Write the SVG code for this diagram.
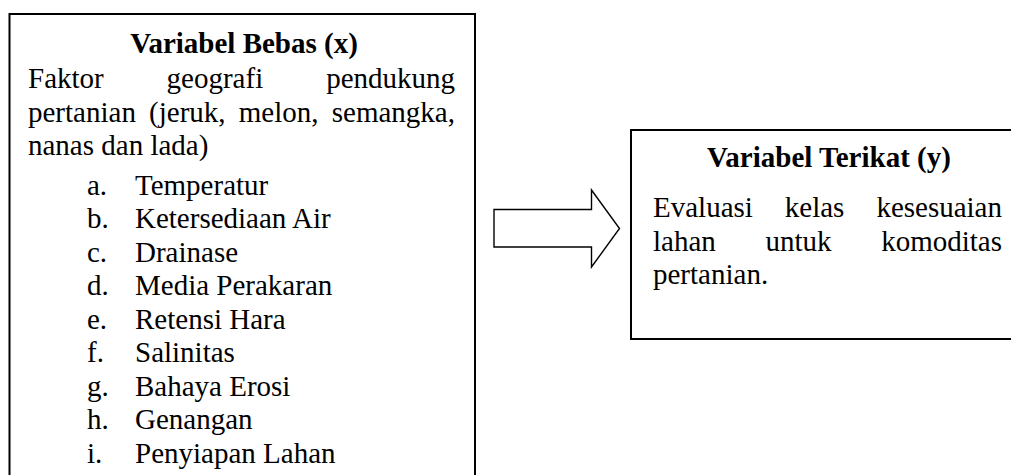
<svg xmlns="http://www.w3.org/2000/svg" width="1011" height="475" viewBox="0 0 1011 475">
<style>
.box{fill:#fff;stroke:#000;stroke-width:2}
.t{font-family:"Liberation Serif","Times New Roman",serif;font-size:29px;fill:#000}
.b{font-weight:bold}
.arrow{fill:#fff;stroke:#000;stroke-width:1.4;stroke-linejoin:miter}
</style>
<rect width="1011" height="475" fill="#fff"/>
<g id="node-bebas">
<rect class="box" x="9.5" y="14" width="465.5" height="470"/>
<text class="t b" x="244" y="53" text-anchor="middle">Variabel Bebas (x)</text>
<text class="t" x="28" y="88">Faktor</text>
<text class="t" x="166.6" y="88">geografi</text>
<text class="t" x="455" y="88" text-anchor="end">pendukung</text>
<text class="t" x="28" y="121.5">pertanian</text>
<text class="t" x="149.1" y="121.5">(jeruk,</text>
<text class="t" x="238.8" y="121.5">melon,</text>
<text class="t" x="455" y="121.5" text-anchor="end">semangka,</text>
<text class="t" x="28" y="155">nanas dan lada)</text>
<g class="t">
<text x="87" y="194.5">a.</text><text x="135" y="194.5">Temperatur</text>
<text x="87" y="228">b.</text><text x="135" y="228">Ketersediaan Air</text>
<text x="87" y="261.5">c.</text><text x="135" y="261.5">Drainase</text>
<text x="87" y="295">d.</text><text x="135" y="295">Media Perakaran</text>
<text x="87" y="328.5">e.</text><text x="135" y="328.5">Retensi Hara</text>
<text x="87" y="362">f.</text><text x="135" y="362">Salinitas</text>
<text x="87" y="395.5">g.</text><text x="135" y="395.5">Bahaya Erosi</text>
<text x="87" y="429">h.</text><text x="135" y="429">Genangan</text>
<text x="87" y="462.5">i.</text><text x="135" y="462.5">Penyiapan Lahan</text>
</g>
</g>
<g id="node-terikat">
<rect class="box" x="631" y="130" width="395" height="209"/>
<text class="t b" x="829" y="167" text-anchor="middle">Variabel Terikat (y)</text>
<text class="t" x="653" y="217">Evaluasi</text>
<text class="t" x="784.8" y="217">kelas</text>
<text class="t" x="1002" y="217" text-anchor="end">kesesuaian</text>
<text class="t" x="653" y="250.5">lahan</text>
<text class="t" x="765.5" y="250.5">untuk</text>
<text class="t" x="1002" y="250.5" text-anchor="end">komoditas</text>
<text class="t" x="653" y="284">pertanian.</text>
</g>
<g id="connectors">
<polygon class="arrow" points="494,209.5 591.5,209.5 591.5,190 619.5,228.5 591.5,267 591.5,247 494,247"/>
</g>
</svg>
